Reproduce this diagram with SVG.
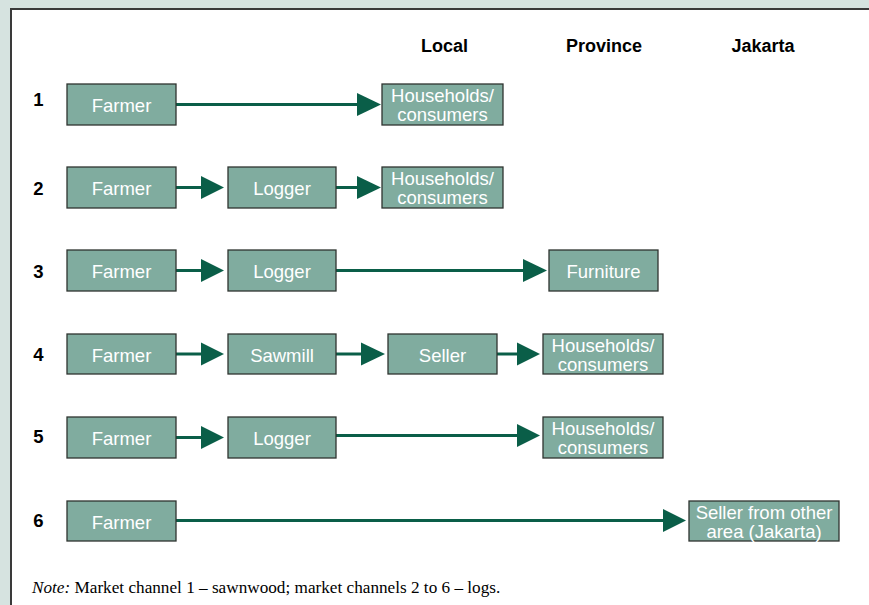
<svg xmlns="http://www.w3.org/2000/svg" width="869" height="605" viewBox="0 0 869 605">
<style>
.box{fill:#80ac9f;stroke:#2e3430;stroke-width:1.3}
.bt{font-family:"Liberation Sans",Arial,sans-serif;font-size:18.5px;fill:#ffffff;text-anchor:middle}
.hd{font-family:"Liberation Sans",Arial,sans-serif;font-size:18px;font-weight:bold;fill:#000;text-anchor:middle}
.num{font-family:"Liberation Sans",Arial,sans-serif;font-size:18.5px;font-weight:bold;fill:#000;text-anchor:middle}
.ln{stroke:#0a5e48;stroke-width:3;fill:none}
.ah{fill:#0a5e48}
.note{font-family:"Liberation Serif","Times New Roman",serif;font-size:17.2px;fill:#000}
</style>
<rect x="0" y="0" width="869" height="605" fill="#d6e3e0"/>
<rect x="11" y="9" width="870" height="610" fill="#ffffff" stroke="#3a3a3a" stroke-width="2"/>

<g id="headers">
<text class="hd" x="444.5" y="52">Local</text>
<text class="hd" x="604" y="52">Province</text>
<text class="hd" x="763" y="52">Jakarta</text>
</g>
<g id="row-numbers">
<text class="num" x="38.5" y="106">1</text>
<text class="num" x="38.5" y="195">2</text>
<text class="num" x="38.5" y="278">3</text>
<text class="num" x="38.5" y="361">4</text>
<text class="num" x="38.5" y="443">5</text>
<text class="num" x="38.5" y="527">6</text>
</g>

<g id="connectors">
<line class="ln" x1="176" y1="104.5" x2="360" y2="104.5"/><polygon class="ah" points="357,93 381,104.5 357,116"/>
<line class="ln" x1="176" y1="187.5" x2="204" y2="187.5"/><polygon class="ah" points="201,176 224,187.5 201,199"/>
<line class="ln" x1="336" y1="187.5" x2="360" y2="187.5"/><polygon class="ah" points="357,176 381,187.5 357,199"/>
<line class="ln" x1="176" y1="270.5" x2="204" y2="270.5"/><polygon class="ah" points="201,259 224,270.5 201,282"/>
<line class="ln" x1="336" y1="270.5" x2="526" y2="270.5"/><polygon class="ah" points="523,259 547,270.5 523,282"/>
<line class="ln" x1="176" y1="354" x2="204" y2="354"/><polygon class="ah" points="201,342.5 224,354 201,365.5"/>
<line class="ln" x1="336" y1="354" x2="364" y2="354"/><polygon class="ah" points="361,342.5 385,354 361,365.5"/>
<line class="ln" x1="497" y1="354" x2="520" y2="354"/><polygon class="ah" points="517,342.5 540,354 517,365.5"/>
<line class="ln" x1="176" y1="437.5" x2="204" y2="437.5"/><polygon class="ah" points="201,426 224,437.5 201,449"/>
<line class="ln" x1="336" y1="435.5" x2="520" y2="435.5"/><polygon class="ah" points="517,424 540,435.5 517,447"/>
<line class="ln" x1="176" y1="520.5" x2="666" y2="520.5"/><polygon class="ah" points="663,509 686,520.5 663,532"/>
</g>

<g id="r1-farmer"><rect class="box" x="67" y="84" width="109" height="41"/><text class="bt" x="121.5" y="112">Farmer</text></g>
<g id="r1-households"><rect class="box" x="382" y="84" width="121" height="41"/><text class="bt" x="442.5" y="101.5">Households/</text><text class="bt" x="442.5" y="121">consumers</text></g>

<g id="r2-farmer"><rect class="box" x="67" y="167" width="109" height="41"/><text class="bt" x="121.5" y="195">Farmer</text></g>
<g id="r2-logger"><rect class="box" x="228" y="167" width="108" height="41"/><text class="bt" x="282" y="195">Logger</text></g>
<g id="r2-households"><rect class="box" x="382" y="167" width="121" height="41"/><text class="bt" x="442.5" y="184.5">Households/</text><text class="bt" x="442.5" y="204">consumers</text></g>

<g id="r3-farmer"><rect class="box" x="67" y="250" width="109" height="41"/><text class="bt" x="121.5" y="278">Farmer</text></g>
<g id="r3-logger"><rect class="box" x="228" y="250" width="108" height="41"/><text class="bt" x="282" y="278">Logger</text></g>
<g id="r3-furniture"><rect class="box" x="549" y="250" width="109" height="41"/><text class="bt" x="603.5" y="278">Furniture</text></g>

<g id="r4-farmer"><rect class="box" x="67" y="334" width="109" height="40"/><text class="bt" x="121.5" y="361.5">Farmer</text></g>
<g id="r4-sawmill"><rect class="box" x="228" y="334" width="108" height="40"/><text class="bt" x="282" y="361.5">Sawmill</text></g>
<g id="r4-seller"><rect class="box" x="388" y="334" width="109" height="40"/><text class="bt" x="442.5" y="361.5">Seller</text></g>
<g id="r4-households"><rect class="box" x="543" y="334" width="120" height="40"/><text class="bt" x="603" y="351.5">Households/</text><text class="bt" x="603" y="371">consumers</text></g>

<g id="r5-farmer"><rect class="box" x="67" y="417" width="109" height="41"/><text class="bt" x="121.5" y="445">Farmer</text></g>
<g id="r5-logger"><rect class="box" x="228" y="417" width="108" height="41"/><text class="bt" x="282" y="445">Logger</text></g>
<g id="r5-households"><rect class="box" x="543" y="417" width="120" height="41"/><text class="bt" x="603" y="434.5">Households/</text><text class="bt" x="603" y="454">consumers</text></g>

<g id="r6-farmer"><rect class="box" x="67" y="501" width="109" height="40"/><text class="bt" x="121.5" y="528.5">Farmer</text></g>
<g id="r6-seller-jakarta"><rect class="box" x="689" y="501" width="150" height="40"/><text class="bt" x="764" y="518.5">Seller from other</text><text class="bt" x="764" y="537.5">area (Jakarta)</text></g>

<text class="note" x="32" y="593"><tspan font-style="italic">Note:</tspan> Market channel 1 – sawnwood; market channels 2 to 6 – logs.</text>
</svg>
